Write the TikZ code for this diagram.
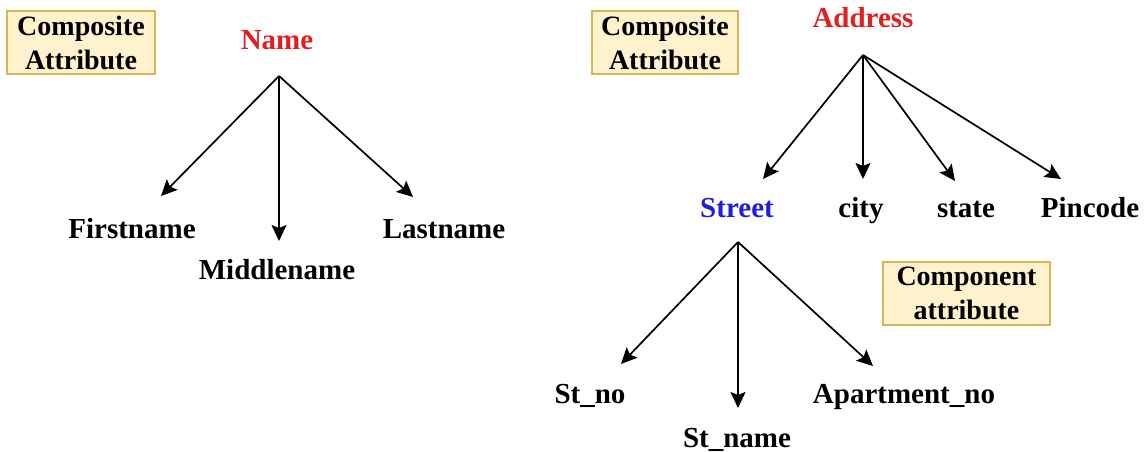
\documentclass[tikz,border=0pt]{standalone}
\usepackage{fontspec}
\setmainfont{Liberation Serif}
\usetikzlibrary{arrows.meta}
\definecolor{boxfill}{HTML}{FFF2CC}
\definecolor{boxdraw}{HTML}{D6B656}
\definecolor{attred}{HTML}{E31E1E}
\definecolor{attblue}{HTML}{1F1FD8}
\tikzset{
  lbl/.style={inner sep=0pt, anchor=base, font=\fontsize{29}{34}\selectfont\bfseries},
  notebox/.style={draw=boxdraw, fill=boxfill, line width=1.2pt, minimum width=#1, minimum height=63pt, inner sep=0pt, align=center, font=\fontsize{28}{34}\selectfont\bfseries},
  link/.style={line width=1.7pt, -{Stealth[length=16pt,width=15pt,inset=3pt]}}
}
\begin{document}
\begin{tikzpicture}[x=1pt,y=-1pt]
\useasboundingbox (0,0) rectangle (1144,452);
% notes
\node[notebox=148pt] (note1) at (81,42.5) {Composite\\Attribute};
\node[notebox=146pt] (note2) at (665,42.5) {Composite\\Attribute};
\node[notebox=167pt] (note3) at (966.5,293.5) {Component\\attribute};
% Name tree
\node[lbl, text=attred] (name) at (277,50) {Name};
\node[lbl] (first) at (132,238) {Firstname};
\node[lbl] (middle) at (277,279) {Middlename};
\node[lbl] (last) at (444,238) {Lastname};
\coordinate (nameapex) at (279,76);
\coordinate (tfirst) at (161,196);
\coordinate (tmiddle) at (279,241);
\coordinate (tlast) at (413,197);
\draw[link] (nameapex) -- (tfirst);
\draw[link] (nameapex) -- (tmiddle);
\draw[link] (nameapex) -- (tlast);
% Address tree
\node[lbl, text=attred] (addr) at (863,28) {Address};
\node[lbl, text=attblue] (street) at (737,217) {Street};
\node[lbl] (city) at (861,217) {city};
\node[lbl] (state) at (966,217) {state};
\node[lbl] (pin) at (1090,217) {Pincode};
\coordinate (addrapex) at (863,55);
\coordinate (tstreet) at (763,179);
\coordinate (tcity) at (863,179);
\coordinate (tstate) at (955,181);
\coordinate (tpin) at (1061,179);
\draw[link] (addrapex) -- (tstreet);
\draw[link] (addrapex) -- (tcity);
\draw[link] (addrapex) -- (tstate);
\draw[link] (addrapex) -- (tpin);
% Street tree
\node[lbl] (stno) at (590,403) {St\_no};
\node[lbl] (stname) at (737,447) {St\_name};
\node[lbl] (apt) at (904,403) {Apartment\_no};
\coordinate (streetapex) at (738,242);
\coordinate (tstno) at (621,364);
\coordinate (tstname) at (738,408);
\coordinate (tapt) at (873,366);
\draw[link] (streetapex) -- (tstno);
\draw[link] (streetapex) -- (tstname);
\draw[link] (streetapex) -- (tapt);
\end{tikzpicture}
\end{document}
